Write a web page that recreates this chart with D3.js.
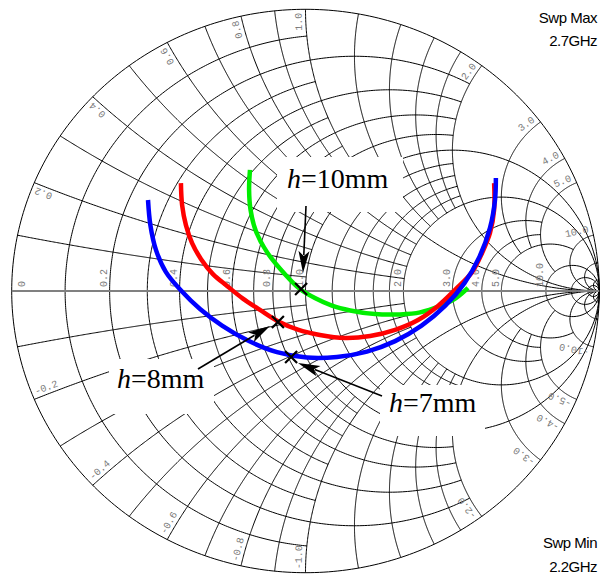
<!DOCTYPE html>
<html><head><meta charset="utf-8">
<script src="https://cdn.jsdelivr.net/npm/d3@7"></script>
<style>
html,body{margin:0;padding:0;background:#fff;}
svg{display:block;}
</style></head><body>
<svg id="chart" width="601" height="576"></svg>
<script>
// Sweep range annotation
const sweepMax = ["Swp Max", "2.7GHz"];
const sweepMin = ["Swp Min", "2.2GHz"];

// Constant-resistance grid circles: [r, |x| extent]
const resistanceGrid = [
  [0, Infinity], [0.1, 1], [0.2, 2], [0.3, 1], [0.4, 2], [0.5, 1], [0.6, 2], [0.7, 1],
  [0.8, 2], [0.9, 1], [1, Infinity], [1.2, 2], [1.4, 2], [1.6, 2], [1.8, 2],
  [2, Infinity], [3, 5], [4, 5], [5, 10], [10, Infinity], [20, Infinity], [50, Infinity]
];
// Constant-reactance grid arcs: [|x|, r extent]
const reactanceGrid = [
  [0.1, 1], [0.2, 2], [0.3, 1], [0.4, 2], [0.5, 1], [0.6, 2], [0.7, 1], [0.8, 2],
  [0.9, 1], [1, Infinity], [1.2, 2], [1.4, 2], [1.6, 2], [1.8, 2], [2, Infinity],
  [3, 5], [4, 5], [5, 10], [10, Infinity], [20, Infinity], [50, Infinity]
];
const resistanceLabels = [0, 0.2, 0.4, 0.6, 0.8, 1, 2, 3, 4, 5, 10];
const reactanceLabels = [0.2, 0.4, 0.6, 0.8, 1, 2, 3, 4, 5, 10,
  -0.2, -0.4, -0.6, -0.8, -1, -2, -3, -4, -5, -10];

// Reflection coefficient traces [re, im] for three substrate heights
const traceH10 = [
  [-0.189, 0.430], [-0.192, 0.359], [-0.187, 0.288], [-0.169, 0.213], [-0.131, 0.138],
  [-0.066, 0.055], [-0.019, 0.007], [0.032, -0.025], [0.090, -0.052], [0.152, -0.069],
  [0.237, -0.082], [0.322, -0.083], [0.390, -0.076], [0.458, -0.053], [0.512, -0.025],
  [0.553, 0.011]
];
const traceH8 = [
  [-0.424, 0.383], [-0.420, 0.305], [-0.407, 0.234], [-0.386, 0.170], [-0.356, 0.114],
  [-0.315, 0.060], [-0.267, 0.018], [-0.213, -0.027], [-0.155, -0.067], [-0.094, -0.107],
  [-0.026, -0.137], [0.049, -0.156], [0.134, -0.167], [0.220, -0.160], [0.305, -0.138],
  [0.383, -0.103], [0.451, -0.053], [0.509, 0.004], [0.567, 0.067], [0.601, 0.135],
  [0.628, 0.206], [0.642, 0.288], [0.642, 0.383]
];
const traceH7 = [
  [-0.536, 0.323], [-0.528, 0.234], [-0.509, 0.146], [-0.475, 0.067], [-0.422, 0.000],
  [-0.359, -0.064], [-0.284, -0.123], [-0.196, -0.176], [-0.097, -0.217], [0.005, -0.236],
  [0.107, -0.234], [0.209, -0.215], [0.305, -0.178], [0.395, -0.123], [0.475, -0.053],
  [0.541, 0.028], [0.592, 0.121], [0.628, 0.224], [0.645, 0.323], [0.648, 0.401]
];
// Marked points on each trace
const markers = [[-0.015, 0.007], [-0.094, -0.110], [-0.049, -0.234]];
const traceColors = ["#00ee00", "#ff0000", "#0000ff"];

const cx = 305.5, cy = 291, rx = 293.8, ry = 281.7;
const sx = d3.scaleLinear().domain([-1, 1]).range([cx - rx, cx + rx]);
const sy = d3.scaleLinear().domain([-1, 1]).range([cy + ry, cy - ry]);
const svg = d3.select("#chart");

// z = r + jx  ->  reflection coefficient
function gamma(r, x) {
  const d = (r + 1) * (r + 1) + x * x;
  return [(r * r + x * x - 1) / d, 2 * x / d];
}
function sweep(a, b, n) {
  const ta = Math.atan(a), tb = Math.atan(b);
  return d3.range(n + 1).map(i => Math.tan(ta + (tb - ta) * i / n));
}
const line = d3.line().x(d => sx(d[0])).y(d => sy(d[1]));

const grid = svg.append("g").attr("fill", "none").attr("stroke", "#000").attr("stroke-width", 1);
resistanceGrid.forEach(([r, xm]) => {
  const pts = sweep(-xm, xm, 400).map(x => gamma(r, x));
  grid.append("path").attr("d", line(pts));
});
reactanceGrid.forEach(([x, rm]) => {
  [x, -x].forEach(xv => {
    const pts = sweep(0, rm, 300).map(r => gamma(r, xv));
    grid.append("path").attr("d", line(pts));
  });
});

// Real axis
svg.append("line").attr("x1", sx(-1)).attr("x2", sx(1)).attr("y1", sy(0)).attr("y2", sy(0))
  .attr("stroke", "#808080").attr("stroke-width", 2);

// Grid labels
const lab = svg.append("g").attr("font-family", "'Liberation Mono', 'DejaVu Sans Mono', monospace")
  .attr("font-size", 10).attr("fill", "#7a7a7a");
const fmt = v => (v < 0 ? "-" : "") + (v === 0 ? "0" : Math.abs(v).toFixed(1));
resistanceLabels.forEach(r => {
  const px = sx(gamma(r, 0)[0]) + (r === 0 ? 13 : -2.5);
  const py = sy(0) - 4;
  lab.append("text").attr("transform", `translate(${px},${py}) rotate(-90)`).text(fmt(r));
});
reactanceLabels.forEach(x => {
  const g = gamma(0, x);
  const phi = Math.atan2(g[1], g[0]) + Math.sign(x) * 0.013;
  const rho = 0.988;
  const px = sx(rho * Math.cos(phi)), py = sy(rho * Math.sin(phi));
  const ang = Math.atan2(-(py - cy), px - cx) * 180 / Math.PI;
  const rot = x > 0 ? -ang : -(ang + 180);
  lab.append("text").attr("transform", `translate(${px},${py}) rotate(${rot})`)
    .attr("text-anchor", x > 0 ? "end" : "start").text(fmt(x));
});

// Traces
const traceLine = d3.line().x(d => sx(d[0])).y(d => sy(d[1])).curve(d3.curveCatmullRom);
[traceH10, traceH8, traceH7].forEach((t, i) => {
  svg.append("path").attr("d", traceLine(t))
    .attr("fill", "none").attr("stroke", traceColors[i]).attr("stroke-width", 4.5)
    .attr("stroke-linecap", "butt");
});
// Markers
markers.forEach(m => {
  const px = sx(m[0]), py = sy(m[1]), s = 6;
  svg.append("path").attr("d", `M${px - s},${py - s}L${px + s},${py + s}M${px - s},${py + s}L${px + s},${py - s}`)
    .attr("stroke", "#000").attr("stroke-width", 2.2).attr("fill", "none");
});

// Annotation boxes and text
const notes = [
  { box: [277, 157, 126, 55], x: 287, y: 188, v: "10mm" },
  { box: [109, 359, 105, 55], x: 117, y: 388, v: "8mm" },
  { box: [380, 385, 105, 51], x: 389, y: 412, v: "7mm" }
];
notes.forEach(n => {
  svg.append("rect").attr("x", n.box[0]).attr("y", n.box[1]).attr("width", n.box[2]).attr("height", n.box[3]).attr("fill", "#fff");
  const t = svg.append("text").attr("x", n.x).attr("y", n.y)
    .attr("font-family", "'Liberation Serif', 'Times New Roman', serif").attr("font-size", 28).attr("fill", "#000");
  t.append("tspan").attr("font-style", "italic").text("h");
  t.append("tspan").text("=" + n.v);
});

// Arrows
function arrow(x1, y1, x2, y2) {
  const dx = x2 - x1, dy = y2 - y1, L = Math.hypot(dx, dy), ux = dx / L, uy = dy / L;
  const hl = 22, hw = 5.5, nx = -uy, ny = ux;
  const bx = x2 - ux * hl, by = y2 - uy * hl;
  svg.append("line").attr("x1", x1).attr("y1", y1).attr("x2", bx + ux * 4).attr("y2", by + uy * 4)
    .attr("stroke", "#000").attr("stroke-width", 1.6);
  svg.append("path").attr("d", `M${x2},${y2}L${bx + nx * hw},${by + ny * hw}L${bx + ux * 5},${by + uy * 5}L${bx - nx * hw},${by - ny * hw}Z`)
    .attr("fill", "#000");
}
arrow(306, 206, 303, 273);
arrow(198, 369, 270, 326);
arrow(382, 396, 298, 363);

// Sweep text
const sw = svg.append("g").attr("font-family", "'Liberation Sans', Arial, sans-serif").attr("font-size", 15)
  .attr("fill", "#000").attr("text-anchor", "end").attr("letter-spacing", -0.5);
sw.append("text").attr("x", 597).attr("y", 23).text(sweepMax[0]);
sw.append("text").attr("x", 597).attr("y", 46).text(sweepMax[1]);
sw.append("text").attr("x", 597).attr("y", 548).text(sweepMin[0]);
sw.append("text").attr("x", 597).attr("y", 572).text(sweepMin[1]);
</script>
</body></html>
